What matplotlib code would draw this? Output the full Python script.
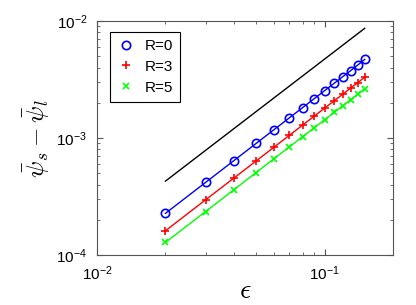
import matplotlib.pyplot as plt

plt.rcParams["font.family"] = ["Liberation Sans", "DejaVu Sans"]
plt.rcParams["mathtext.fontset"] = "cm"

eps = [0.02, 0.03, 0.04, 0.05, 0.06, 0.07, 0.08, 0.09, 0.10, 0.11, 0.12, 0.13, 0.14, 0.15]
r0 = [2.27e-4, 4.17e-4, 6.42e-4, 8.98e-4, 1.18e-3, 1.487e-3, 1.817e-3,
      2.168e-3, 2.54e-3, 2.93e-3, 3.34e-3, 3.76e-3, 4.21e-3, 4.70e-3]
r3 = [1.61e-4, 2.96e-4, 4.55e-4, 6.36e-4, 8.36e-4, 1.054e-3, 1.287e-3,
      1.536e-3, 1.80e-3, 2.076e-3, 2.365e-3, 2.667e-3, 2.98e-3, 3.31e-3]
r5 = [1.28e-4, 2.35e-4, 3.62e-4, 5.06e-4, 6.66e-4, 8.39e-4, 1.025e-3,
      1.223e-3, 1.43e-3, 1.653e-3, 1.883e-3, 2.123e-3, 2.373e-3, 2.63e-3]
# slope reference line
ref_x = [0.02, 0.15]
ref_y = [4.28e-4, 8.66e-3]

fig = plt.figure(figsize=(4.16, 3.05), dpi=100)
ax = fig.add_axes([0.233, 0.164, 0.712, 0.767])

ax.plot(ref_x, ref_y, color="black", linewidth=1)
ax.plot(eps, r0, color="blue", linewidth=1)
ax.plot(eps, r3, color="red", linewidth=1)
ax.plot(eps, r5, color="#00ff00", linewidth=1)
ax.plot(eps, r0, "o", color="blue", mfc="none", ms=6, mew=1.2, label="R=0")
ax.plot(eps, r3, "+", color="red", ms=6, mew=1.2, label="R=3")
ax.plot(eps, r5, "x", color="#00ff00", ms=4, mew=1.2, label="R=5")

ax.set_xscale("log")
ax.set_yscale("log")
ax.set_xlim(0.01, 0.2)
ax.set_ylim(1e-4, 1e-2)

ax.tick_params(which="both", direction="in", top=True, right=True,
               colors="#555555", labelcolor="black", labelsize=11)
ax.tick_params(axis="x", which="major", pad=7)
ax.tick_params(axis="y", which="major", pad=7)
ax.tick_params(which="major", length=4)
ax.tick_params(which="minor", length=2)
for s in ax.spines.values():
    s.set_color("#555555")
    s.set_linewidth(0.8)

ax.set_xlabel(r"$\epsilon$", fontsize=20, labelpad=-4)
ax.set_ylabel(r"$\bar{\psi}_s - \bar{\psi}_l$", fontsize=18, labelpad=4)

leg = ax.legend(loc="upper left", fontsize=11, fancybox=False, framealpha=1,
                edgecolor="black", handlelength=1.2, borderpad=0.45,
                labelspacing=0.45, borderaxespad=0, handletextpad=0.6,
                bbox_to_anchor=(0.044, 0.953))
leg.get_frame().set_linewidth(0.8)

fig.savefig("out.png", dpi=100)
